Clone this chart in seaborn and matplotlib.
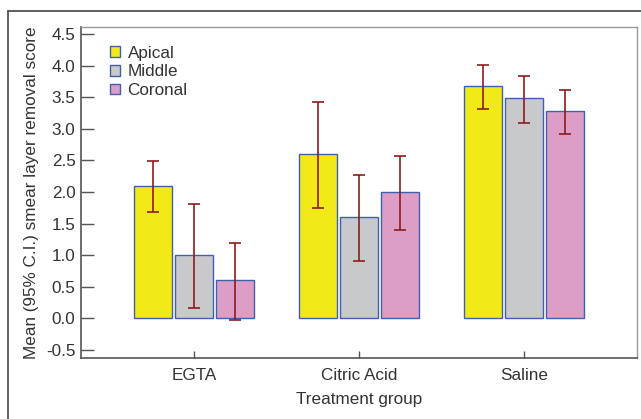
import numpy as np
import pandas as pd
import seaborn as sns
import matplotlib
matplotlib.use("Agg")
import matplotlib.pyplot as plt
from matplotlib.lines import Line2D

groups = ["EGTA", "Citric Acid", "Saline"]
regions = ["Apical", "Middle", "Coronal"]
apical = [2.1, 2.6, 3.67]
middle = [1.0, 1.6, 3.48]
coronal = [0.6, 2.0, 3.28]
apical_lo = [1.69, 1.75, 3.32]
apical_hi = [2.49, 3.42, 4.01]
middle_lo = [0.17, 0.90, 3.09]
middle_hi = [1.81, 2.27, 3.84]
coronal_lo = [-0.02, 1.40, 2.92]
coronal_hi = [1.19, 2.57, 3.61]
yticks = [-0.5, 0.0, 0.5, 1.0, 1.5, 2.0, 2.5, 3.0, 3.5, 4.0, 4.5]

colors = {"Apical": "#f2ea18", "Middle": "#c8c9cb", "Coronal": "#dc9ec6"}

rows = []
for reg, vals, lo, hi in [("Apical", apical, apical_lo, apical_hi),
                          ("Middle", middle, middle_lo, middle_hi),
                          ("Coronal", coronal, coronal_lo, coronal_hi)]:
    for g, v, l, h in zip(groups, vals, lo, hi):
        rows.append({"group": g, "region": reg, "score": v, "lo": l, "hi": h})
df = pd.DataFrame(rows)

sns.set_theme(style="white")
plt.rcParams["font.family"] = ["Liberation Sans", "DejaVu Sans"]

fig = plt.figure(figsize=(6.41, 4.19), dpi=100)
ax = fig.add_axes([81/641, 1-358/419, (637-81)/641, (358-27)/419])

sns.barplot(data=df, x="group", y="score", hue="region", order=groups,
            hue_order=regions, palette=colors, errorbar=None, width=0.745,
            gap=0.07, edgecolor="#3f5fb0", linewidth=1.0, saturation=1,
            ax=ax)

# error bars (95% CI) positioned on the drawn bars
for cont, reg in zip(ax.containers, regions):
    sub = df[df.region == reg].set_index("group").loc[groups]
    xs = [p.get_x() + p.get_width()/2 for p in cont.patches]
    ys = sub["score"].values
    yerr = [ys - sub["lo"].values, sub["hi"].values - ys]
    ax.errorbar(xs, ys, yerr=yerr, fmt="none", ecolor="#8e1c1c",
                elinewidth=1.2, capsize=4, capthick=1.2, zorder=5)

ax.set_xlim(-0.685, 2.685)
ax.set_ylim(-0.627, 4.61)
ax.set_yticks(yticks)
ax.set_yticklabels([f"{t:.1f}" for t in yticks])
ax.tick_params(axis="y", direction="in", length=9, width=1, color="#555555",
               labelsize=12.3, labelcolor="#333333", pad=4, left=True)
ax.tick_params(axis="x", direction="in", length=5, width=1, color="#555555",
               labelsize=12.3, labelcolor="#333333", pad=7, bottom=True)
for s in ["left", "bottom"]:
    ax.spines[s].set_color("#555555")
    ax.spines[s].set_linewidth(1.2)
for s in ["top", "right"]:
    ax.spines[s].set_color("#999999")
    ax.spines[s].set_linewidth(1.0)

ax.set_xlabel("Treatment group", fontsize=12.3, color="#333333", labelpad=7)
ax.set_ylabel("Mean (95% C.I.) smear layer removal score", fontsize=12.3,
              color="#333333", labelpad=5)

leg = ax.legend(loc="upper left", bbox_to_anchor=(0.033, 0.975), frameon=False,
                fontsize=12.3, handlelength=0.6, handleheight=0.6,
                handletextpad=0.45, labelspacing=0.22, labelcolor="#333333",
                borderaxespad=0.2)

# outer frame
fig.add_artist(Line2D([8/641, 8/641], [0, 1-11/419], color="#444444", lw=1.2,
                      transform=fig.transFigure))
fig.add_artist(Line2D([8/641, 1], [1-11/419, 1-11/419], color="#444444", lw=1.2,
                      transform=fig.transFigure))

fig.savefig("out.png", dpi=100)
